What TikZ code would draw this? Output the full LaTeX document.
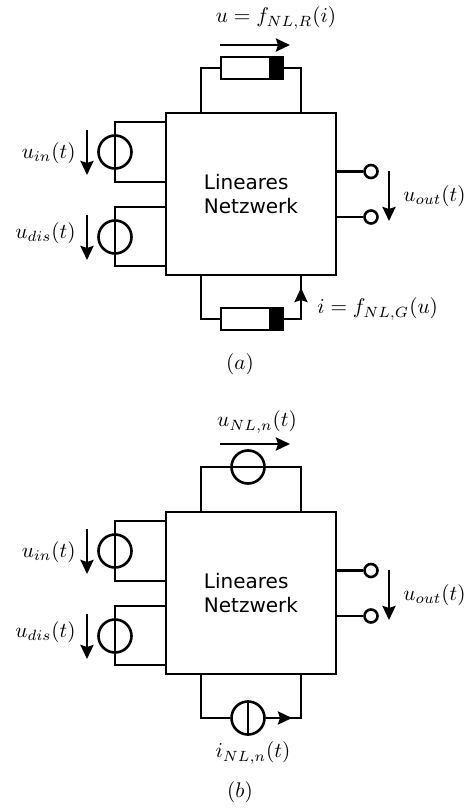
\documentclass[tikz,border=0pt]{standalone}
\usepackage{fontspec}
\newfontfamily\netzfont{DejaVu Sans}
\usetikzlibrary{arrows.meta}
\begin{document}
\begin{tikzpicture}[x=0.5pt, y=-0.5pt, line width=1.3pt,
    pfeil/.style={-{Stealth[length=7pt,width=6.5pt,inset=1pt]}},
    netz/.style={draw, minimum width=85pt, minimum height=81pt, align=left, inner sep=0pt, font=\netzfont},
    quelle/.style={circle, draw, minimum size=16.5pt, inner sep=0pt},
    klemme/.style={circle, draw, fill=white, minimum size=6.5pt, inner sep=0pt},
    diode/.style={draw, fill=white, minimum width=31pt, minimum height=11pt, inner sep=0pt},
    ring/.style={draw, fill=black, minimum width=6.5pt, minimum height=11pt, inner sep=0pt},
    lab/.style={scale=1.06, inner sep=0pt}]
\useasboundingbox (0,0) rectangle (468,808);
% (a)
\node[netz] (anetz) at (251,194){Lineares\\Netzwerk};
\coordinate (atl) at (201,113);
\coordinate (atr) at (301,113);
\coordinate (atw1) at (201,68);
\coordinate (atw2) at (301,68);
\node[diode] (adt) at (252,68){};
\node[ring] (art) at (276.5,68){};
\draw(atl) -- (atw1) -- (adt);
\draw(art) -- (atw2) -- (atr);
\coordinate (apt1) at (220,45);
\coordinate (apt2) at (290,45);
\draw[pfeil](apt1) -- (apt2);
\node[lab] (ault) at (276,18){$u=f_{NL,R}(i)$};
\coordinate (abl) at (201,275);
\coordinate (abr) at (301,275);
\coordinate (abw1) at (201,319);
\coordinate (abw2) at (301,319);
\coordinate (apb) at (301,288);
\node[diode] (adb) at (252,319){};
\node[ring] (arb) at (276.5,319){};
\draw(abl) -- (abw1) -- (adb);
\draw(arb) -- (abw2) -- (abr);
\draw[pfeil](abw2) -- (apb);
\node[lab, anchor=west] (aulb) at (316,309){$i=f_{NL,G}(u)$};
\coordinate (ai1) at (166,122);
\coordinate (ai2) at (115,122);
\coordinate (ai3) at (115,182);
\coordinate (ai4) at (166,182);
\node[quelle] (aqi) at (115,152){};
\draw(ai1) -- (ai2) -- (ai3) -- (ai4);
\coordinate (api1) at (87,130);
\coordinate (api2) at (87,175);
\draw[pfeil](api1) -- (api2);
\node[lab, anchor=east] (auli) at (77,153){$u_{in}(t)$};
\coordinate (ad1) at (166,207);
\coordinate (ad2) at (115,207);
\coordinate (ad3) at (115,266);
\coordinate (ad4) at (166,266);
\node[quelle] (aqd) at (115,237){};
\draw(ad1) -- (ad2) -- (ad3) -- (ad4);
\coordinate (apd1) at (87,215);
\coordinate (apd2) at (87,260);
\draw[pfeil](apd1) -- (apd2);
\node[lab, anchor=east] (auld) at (77,233){$u_{dis}(t)$};
\coordinate (ao1) at (336,171.5);
\coordinate (ao2) at (336,217);
\node[klemme] (ak1) at (371,171.5){};
\node[klemme] (ak2) at (371,217){};
\draw(ao1) -- (ak1);
\draw(ao2) -- (ak2);
\coordinate (apo1) at (389,171);
\coordinate (apo2) at (389,221);
\draw[pfeil](apo1) -- (apo2);
\node[lab, anchor=west] (aulo) at (402,196){$u_{out}(t)$};
\node[lab] (acap) at (240,364){$(a)$};
% (b)
\node[netz] (bnetz) at (251,593){Lineares\\Netzwerk};
\coordinate (btl) at (201,512);
\coordinate (btr) at (301,512);
\coordinate (btw1) at (201,467);
\coordinate (btw2) at (301,467);
\node[quelle] (bqt) at (248,467){};
\draw(btl) -- (btw1) -- (btw2) -- (btr);
\coordinate (bpt1) at (220,444);
\coordinate (bpt2) at (290,444);
\draw[pfeil](bpt1) -- (bpt2);
\node[lab] (bult) at (257,422){$u_{NL,n}(t)$};
\coordinate (bbl) at (201,674);
\coordinate (bbr) at (301,674);
\coordinate (bbw1) at (201,718);
\coordinate (bbw2) at (301,718);
\coordinate (bpb) at (292,718);
\node[quelle] (bqb) at (248,718){};
\draw(bbl) -- (bbw1) -- (bqb);
\draw(bqb) -- (bbw2) -- (bbr);
\draw(bqb.north) -- (bqb.south);
\draw[pfeil](bqb) -- (bpb);
\node[lab] (bulb) at (253,753){$i_{NL,n}(t)$};
\coordinate (bi1) at (166,521);
\coordinate (bi2) at (115,521);
\coordinate (bi3) at (115,581);
\coordinate (bi4) at (166,581);
\node[quelle] (bqi) at (115,551){};
\draw(bi1) -- (bi2) -- (bi3) -- (bi4);
\coordinate (bpi1) at (87,529);
\coordinate (bpi2) at (87,574);
\draw[pfeil](bpi1) -- (bpi2);
\node[lab, anchor=east] (buli) at (77,552){$u_{in}(t)$};
\coordinate (bd1) at (166,606);
\coordinate (bd2) at (115,606);
\coordinate (bd3) at (115,665);
\coordinate (bd4) at (166,665);
\node[quelle] (bqd) at (115,636){};
\draw(bd1) -- (bd2) -- (bd3) -- (bd4);
\coordinate (bpd1) at (87,614);
\coordinate (bpd2) at (87,659);
\draw[pfeil](bpd1) -- (bpd2);
\node[lab, anchor=east] (buld) at (77,632){$u_{dis}(t)$};
\coordinate (bo1) at (336,570.5);
\coordinate (bo2) at (336,616);
\node[klemme] (bk1) at (371,570.5){};
\node[klemme] (bk2) at (371,616){};
\draw(bo1) -- (bk1);
\draw(bo2) -- (bk2);
\coordinate (bpo1) at (389,570);
\coordinate (bpo2) at (389,620);
\draw[pfeil](bpo1) -- (bpo2);
\node[lab, anchor=west] (bulo) at (402,595){$u_{out}(t)$};
\node[lab] (bcap) at (240,792){$(b)$};
\end{tikzpicture}
\end{document}
